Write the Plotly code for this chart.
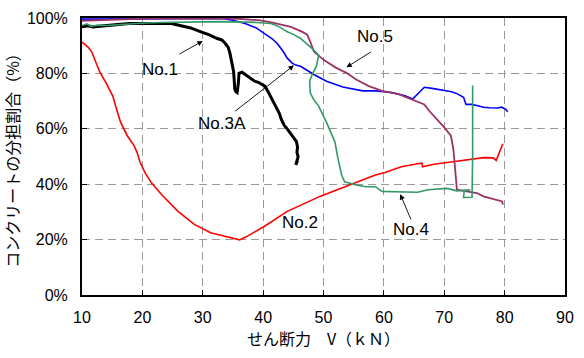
import plotly.graph_objects as go

# ---- data ----
no1_x = [10.0, 11.0, 11.8, 13.0, 15.1, 16.5, 17.8, 20.0, 22.5, 24.8, 26.4, 28.0, 29.7, 31.0,
         32.4, 33.2, 33.7, 34.2, 34.5, 34.8, 35.1, 35.2, 35.3, 35.5, 35.7, 35.9, 36.0, 36.5,
         37.0, 37.5, 38.0, 38.6, 39.2, 39.8, 40.3, 40.8, 41.3, 41.6, 41.9, 42.4, 42.7, 43.0,
         43.5, 43.8, 44.2, 44.7, 45.1, 45.5, 45.7, 45.6, 45.8, 45.6, 45.4, 45.7]
no1_y = [96.8, 97.2, 96.8, 97.0, 97.4, 97.6, 98.0, 98.0, 98.1, 98.0, 97.2, 96.4, 95.0, 94.0,
         92.6, 92.0, 90.9, 89.5, 87.3, 84.0, 80.8, 78.0, 74.3, 73.4, 73.1, 76.5, 80.0, 80.4,
         79.6, 79.0, 78.2, 77.2, 76.8, 76.2, 75.4, 73.5, 71.3, 70.5, 68.8, 66.5, 65.5, 63.5,
         61.2, 60.5, 59.3, 58.2, 57.0, 55.5, 53.5, 51.5, 49.9, 48.2, 47.0, 48.5]

no2_x = [10.0, 11.0, 11.6, 12.9, 14.0, 15.1, 15.8, 16.4, 17.5, 18.6, 19.1, 19.6, 20.5, 21.5,
         23.2, 25.9, 28.6, 31.3, 34.0, 36.1, 37.2, 38.8, 40.3, 44.0, 49.4, 54.3, 58.6, 60.2,
         62.9, 65.6, 66.3, 66.4, 68.3, 71.1, 74.3, 76.5, 78.1, 78.6, 79.7]
no2_y = [91.3, 89.5, 87.8, 80.7, 76.5, 71.8, 66.5, 62.3, 57.5, 54.0, 51.6, 48.0, 43.9, 40.5,
         36.2, 30.2, 25.5, 22.5, 21.0, 19.9, 21.0, 23.1, 24.9, 30.2, 35.6, 39.7, 43.3, 44.2,
         46.3, 47.4, 47.6, 46.3, 47.2, 48.0, 49.0, 49.6, 49.5, 48.6, 54.6]

no3a_x = [10.0, 15.0, 20.0, 25.0, 30.0, 33.2, 35.0, 37.0, 38.8, 40.3, 41.5, 42.4, 43.3, 44.0,
          44.8, 45.4, 46.2, 47.0, 47.8, 48.4, 50.5, 53.2, 56.5, 58.6, 61.3, 63.5, 64.8, 65.6,
          66.7, 68.0, 70.0, 71.2, 72.1, 73.2, 73.6, 74.5, 75.4, 76.5, 77.5, 78.8, 79.5, 80.2,
          80.5]
no3a_y = [99.6, 99.7, 99.8, 99.8, 99.8, 99.8, 99.2, 98.0, 96.5, 94.4, 92.5, 90.6, 88.0, 85.5,
          83.7, 83.0, 82.6, 81.5, 80.4, 79.6, 77.2, 75.1, 73.7, 73.7, 73.1, 71.9, 70.8, 72.5,
          75.0, 74.6, 73.9, 73.4, 72.7, 71.4, 68.8, 68.8, 68.4, 67.8, 67.6, 67.5, 67.8, 67.0,
          66.1]

no4_x = [10.0, 10.8, 11.5, 12.5, 14.0, 15.9, 17.5, 19.7, 23.0, 26.2, 30.0, 33.0, 36.4, 39.0,
         41.3, 42.7, 44.0, 45.1, 46.2, 47.0, 47.8, 48.6, 49.2, 49.0, 48.8, 48.4, 48.1, 47.7,
         47.8, 48.4, 49.2, 50.5, 51.3, 51.9, 52.4, 53.0, 53.5, 54.6, 55.4, 57.0, 58.6, 59.7,
         61.9, 63.5, 65.6, 67.3, 70.5, 72.1, 74.3, 73.3, 73.2, 74.6, 74.7, 74.7]
no4_y = [97.3, 97.9, 97.0, 97.4, 97.3, 97.6, 97.9, 98.1, 98.4, 98.6, 98.6, 98.7, 98.6, 98.4,
         98.0, 96.8, 95.0, 94.0, 92.6, 91.2, 89.6, 88.0, 86.6, 84.5, 82.4, 80.8, 79.5, 77.1,
         73.0, 70.5, 68.2, 62.3, 58.5, 55.2, 49.2, 43.3, 40.9, 40.1, 39.7, 39.1, 39.1, 37.4,
         37.4, 37.2, 37.1, 38.0, 38.5, 37.6, 38.0, 37.6, 35.2, 35.3, 50.0, 75.6]

no5_x = [10.0, 12.0, 15.0, 18.0, 20.0, 24.0, 28.0, 32.0, 36.0, 39.2, 41.0, 42.4, 44.6, 46.5,
         47.3, 47.8, 48.4, 50.0, 52.1, 53.8, 55.4, 57.5, 59.7, 62.4, 64.6, 66.7, 67.5, 68.3,
         70.0, 71.1, 71.5, 71.7, 71.9, 72.1, 73.7, 75.4, 76.5, 78.1, 79.6, 79.7]
no5_y = [99.0, 99.1, 99.3, 99.6, 99.8, 99.9, 99.9, 99.9, 99.7, 99.2, 98.6, 98.0, 96.8, 95.0,
         94.0, 91.5, 87.9, 84.9, 82.0, 80.2, 77.8, 75.4, 73.7, 72.5, 70.5, 68.8, 66.5, 64.7,
         60.5, 57.5, 52.8, 48.0, 43.3, 38.0, 37.4, 36.8, 35.6, 34.8, 33.8, 32.6]

x_ticks = [10, 20, 30, 40, 50, 60, 70, 80, 90]
y_ticks = [0, 20, 40, 60, 80, 100]
y_tick_text = ["0%", "20%", "40%", "60%", "80%", "100%"]

# labels: (text, x, y) and arrows: (head_x, head_y, tail_x, tail_y)
labels = [("No.1", 22.9, 81.4), ("No.3A", 33.2, 61.8), ("No.5", 58.6, 93.2),
          ("No.2", 46.1, 26.1), ("No.4", 64.5, 23.7)]
arrows = [(30.0, 91.7, 25.9, 86.7), (45.1, 82.9, 35.1, 65.9), (53.8, 82.2, 58.1, 88.1),
          (62.7, 36.4, 64.6, 26.7)]

FONT = "Liberation Sans, Arial, sans-serif"
CJK = "Noto Sans CJK JP, sans-serif"

fig = go.Figure()
series = [
    (no2_x, no2_y, "#ff0000", 1.6),
    (no1_x, no1_y, "#000000", 3.0),
    (no3a_x, no3a_y, "#0000ff", 1.6),
    (no5_x, no5_y, "#993366", 1.8),
    (no4_x, no4_y, "#339966", 1.6),
]
for xs, ys, c, w in series:
    fig.add_trace(go.Scatter(x=xs, y=ys, mode="lines",
                             line=dict(color=c, width=w), showlegend=False))

for t, x, y in labels:
    fig.add_annotation(x=x, y=y, text=t, showarrow=False,
                       font=dict(family=FONT, size=17, color="#000"))
for hx, hy, tx, ty in arrows:
    fig.add_annotation(x=hx, y=hy, ax=tx, ay=ty, xref="x", yref="y",
                       axref="x", ayref="y", text="", showarrow=True,
                       arrowhead=2, arrowsize=1.2, arrowwidth=0.9, arrowcolor="#000")

fig.update_layout(
    width=584, height=358,
    margin=dict(l=80, r=10, t=14, b=63),
    paper_bgcolor="white", plot_bgcolor="white",
    font=dict(family=FONT, size=16, color="#000"),
    xaxis=dict(range=[10, 90], tickmode="array", tickvals=x_ticks, showgrid=True,
               gridcolor="#999999", griddash="8px,5px", gridwidth=1,
               showline=True, linecolor="#000", linewidth=2, mirror=True,
               ticks="inside", ticklen=5, tickcolor="#000", zeroline=False,
               ticklabelstandoff=7,
               tickfont=dict(family=FONT, size=16),
               title=dict(text="せん断力　V（ｋＮ）", font=dict(family=CJK, size=16),
                          standoff=8)),
    yaxis=dict(range=[0, 100], tickmode="array", tickvals=y_ticks, ticktext=y_tick_text,
               showgrid=True,
               gridcolor="#999999", griddash="8px,5px", gridwidth=1,
               showline=True, linecolor="#000", linewidth=2, mirror=True,
               ticks="inside", ticklen=5, tickcolor="#000", zeroline=False,
               ticklabelstandoff=9,
               tickfont=dict(family=FONT, size=16),
               title=dict(text="コンクリートの分担割合（%）", font=dict(family=CJK, size=16),
                          standoff=6)),
)

fig.write_html("out.html")
